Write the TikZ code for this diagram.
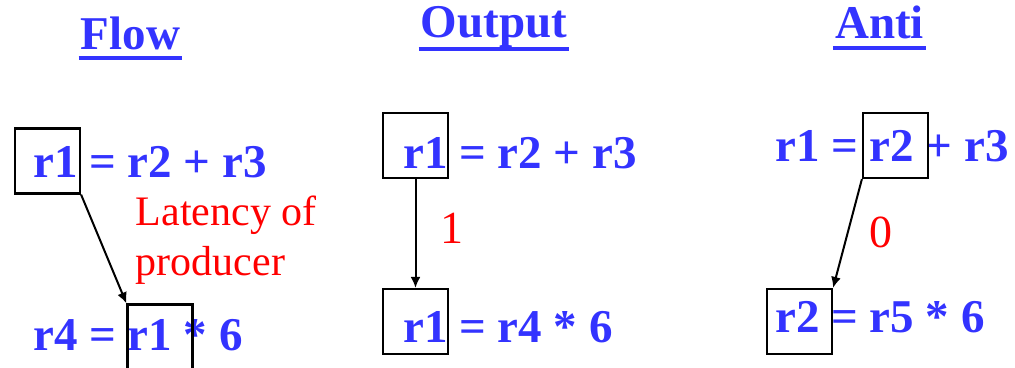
\documentclass[tikz,border=0pt]{standalone}
\usepackage{fontspec}
\setmainfont{Liberation Serif}
\usetikzlibrary{arrows.meta}
\definecolor{regblue}{RGB}{51,51,255}
\tikzset{
  instr/.style={anchor=base west, inner sep=0pt, text=regblue, font=\fontsize{47}{56}\selectfont\bfseries},
  heading/.style={instr, anchor=base},
  regbox/.style={draw, line width=2.2pt, minimum width=65pt, minimum height=65pt, inner sep=0pt},
  dep/.style={-{Latex[length=11pt,width=10pt]}, line width=2pt},
  lat/.style={text=red, inner sep=0pt, anchor=west, font=\fontsize{46}{54}\selectfont},
  uline/.style={regblue, line width=4pt},
}
\begin{document}
\begin{tikzpicture}[x=1pt,y=-1pt]
    \useasboundingbox (0,0) rectangle (1015,367);

    % Headings
    \node[heading] (flow) at (130.5,49) {Flow};
    \node[heading] (output) at (494,37) {Output};
    \node[heading] (anti) at (879.5,38) {Anti};
    \draw[uline] ([xshift=-2pt,yshift=-8.5pt]flow.base west) -- ([xshift=2pt,yshift=-8.5pt]flow.base east);
    \draw[uline] ([xshift=-2pt,yshift=-12pt]output.base west) -- ([xshift=2pt,yshift=-12pt]output.base east);
    \draw[uline] ([xshift=-2pt,yshift=-10pt]anti.base west) -- ([xshift=2pt,yshift=-10pt]anti.base east);

    % Instructions
    \node[instr] (flowdef) at (33,177) {r1 = r2 + r3};
    \node[instr] (flowuse) at (33,350) {r4 = r1 * 6};
    \node[instr] (outdef) at (403,168) {r1 = r2 + r3};
    \node[instr] (outuse) at (403,342) {r1 = r4 * 6};
    \node[instr] (antiuse) at (775,161) {r1 = r2 + r3};
    \node[instr] (antidef) at (775,332) {r2 = r5 * 6};

    % Boxed registers
    \node[regbox] (fa) at (47.5,161) {};
    \node[regbox] (fb) at (160,337) {};
    \node[regbox] (oa) at (415.5,145.5) {};
    \node[regbox] (ob) at (415.5,321.5) {};
    \node[regbox] (aa) at (895.5,145.5) {};
    \node[regbox] (ab) at (799.5,321.5) {};

    % Dependences
    \draw[dep] (fa.south east) -- (fb.north west)
        node[midway, lat, align=left, font=\fontsize{42}{50}\selectfont, xshift=31pt, yshift=9pt] (flat) {Latency of\\producer};
    \draw[dep] (oa.south) -- (ob.north)
        node[midway, lat, xshift=24pt, yshift=5pt] (olat) {1};
    \draw[dep] (aa.south west) -- (ab.north east)
        node[midway, lat, xshift=20.5pt, yshift=1.5pt] (alat) {0};

\end{tikzpicture}
\end{document}
